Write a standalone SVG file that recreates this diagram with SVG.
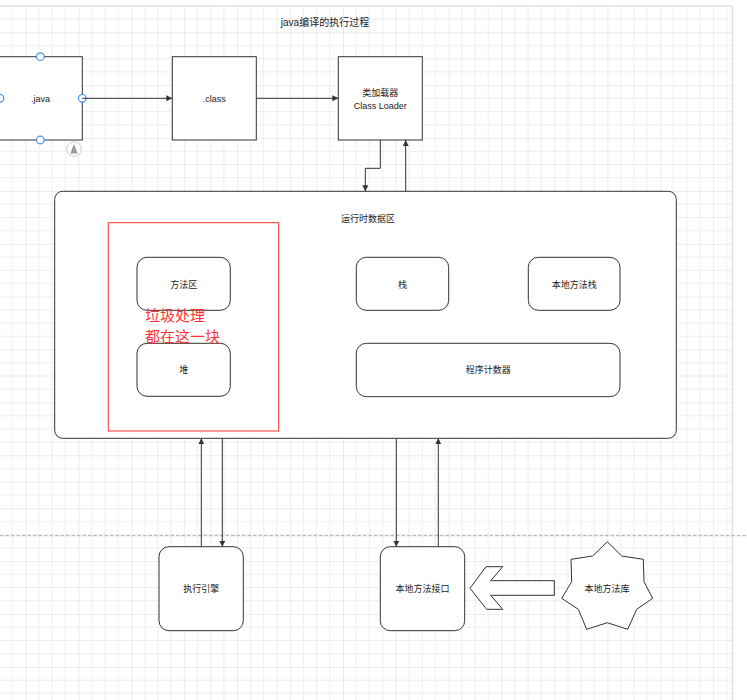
<svg xmlns="http://www.w3.org/2000/svg" width="747" height="700" viewBox="0 0 747 700">
<style>
.box{fill:#fff;stroke:#333;stroke-width:1}
.lbl{font-family:"Liberation Sans","Noto Sans CJK SC",sans-serif;font-size:9px;fill:#222;text-anchor:middle;dominant-baseline:central}
.con{fill:none;stroke:#333;stroke-width:1}
.handle{fill:#fff;stroke:#3d8ef0;stroke-width:1.2}
</style>
<defs>
<pattern id="grid" patternUnits="userSpaceOnUse" x="25.7" y="32.3" width="52.88" height="52.88">
<path d="M13.22,0V52.88M26.44,0V52.88M39.66,0V52.88M0,13.22H52.88M0,26.44H52.88M0,39.66H52.88" stroke="#ededed" stroke-width="1" fill="none"/>
<path d="M0,0V52.88M0,0H52.88" stroke="#dadada" stroke-width="1" fill="none"/>
</pattern>
<marker id="arr" markerUnits="userSpaceOnUse" markerWidth="7" markerHeight="7" refX="6" refY="3" orient="auto">
<path d="M0,0 L6,3 L0,6 z" fill="#333"/>
</marker>
</defs>
<rect x="0" y="0" width="747" height="700" fill="#fff"/>
<rect x="0" y="6" width="732.3" height="694" fill="url(#grid)"/>
<path d="M0,6H732.3V700" fill="none" stroke="#d6d6d6" stroke-width="1"/>
<line x1="0" y1="535.7" x2="747" y2="535.7" stroke="#aaa" stroke-width="1" stroke-dasharray="3.5 2"/>

<text x="325" y="22" class="lbl" style="font-size:10px">java编译的执行过程</text>

<g id="runtime">
<rect x="54.7" y="191.3" width="621.6" height="247" rx="8" class="box"/>
<text x="368" y="219" class="lbl">运行时数据区</text>
</g>
<g id="gc-area">
<rect x="108.3" y="222.7" width="170.4" height="208.3" fill="none" stroke="#f33" stroke-width="1"/>
</g>
<g id="method-area">
<rect x="137" y="257.3" width="93.3" height="53" rx="10" class="box"/>
<text x="183.7" y="284.5" class="lbl">方法区</text>
</g>
<g id="heap">
<rect x="137" y="343.3" width="93.3" height="53" rx="10" class="box"/>
<text x="183.7" y="370" class="lbl">堆</text>
</g>
<g id="gc-note">
<text x="145" y="321" style="font-family:'Liberation Sans','Noto Sans CJK SC',sans-serif;font-size:15px;fill:#f33">垃圾处理</text>
<text x="145" y="342" style="font-family:'Liberation Sans','Noto Sans CJK SC',sans-serif;font-size:15px;fill:#f33">都在这一块</text>
</g>
<g id="stack">
<rect x="356.3" y="257.3" width="92.4" height="53" rx="10" class="box"/>
<text x="402.5" y="284.5" class="lbl">栈</text>
</g>
<g id="native-stack">
<rect x="528.3" y="257.3" width="91.7" height="53" rx="10" class="box"/>
<text x="574.2" y="284.5" class="lbl">本地方法栈</text>
</g>
<g id="pc">
<rect x="356.3" y="343.3" width="263.7" height="53.4" rx="10" class="box"/>
<text x="488.2" y="370" class="lbl">程序计数器</text>
</g>

<g id="java">
<rect x="-1" y="56.7" width="83.3" height="83.3" class="box"/>
<text x="40.5" y="98.5" class="lbl">.java</text>
<circle cx="40.3" cy="56.7" r="3.8" class="handle"/>
<circle cx="40.3" cy="140" r="3.8" class="handle"/>
<circle cx="82.3" cy="98.3" r="3.8" class="handle"/>
<circle cx="0" cy="98.3" r="3.8" class="handle"/>
<circle cx="74" cy="149" r="7.3" fill="#fff" stroke="#ccc" stroke-width="1"/>
<path d="M70.3,153.5 L77.7,153.5 L74,144 z" fill="#999"/>
</g>
<g id="class">
<rect x="172.3" y="56.7" width="84" height="83.3" class="box"/>
<text x="214.3" y="98.5" class="lbl">.class</text>
</g>
<g id="loader">
<rect x="338.3" y="56.7" width="84" height="83.3" class="box"/>
<text x="380.3" y="93" class="lbl">类加载器</text>
<text x="380.3" y="106" class="lbl">Class Loader</text>
</g>

<g id="engine">
<rect x="159" y="546.7" width="84.3" height="84" rx="10" class="box"/>
<text x="201.2" y="588.5" class="lbl">执行引擎</text>
</g>
<g id="native-interface">
<rect x="380.3" y="546.7" width="84.4" height="84" rx="10" class="box"/>
<text x="422.5" y="588.5" class="lbl">本地方法接口</text>
</g>
<g id="native-lib">
<polygon points="607.3,541.7 621.7,556 643.3,559.3 644,581.7 652.7,598.3 636.7,609.3 627.7,629.3 607.3,622.7 586.7,629.3 578.3,609.3 561.7,598.3 571.7,581.7 571,559.3 592.7,556" class="box"/>
<text x="607" y="588.5" class="lbl">本地方法库</text>
</g>

<g id="connectors">
<line x1="82.3" y1="98.3" x2="172.3" y2="98.3" class="con" marker-end="url(#arr)"/>
<line x1="256.3" y1="98.3" x2="338.3" y2="98.3" class="con" marker-end="url(#arr)"/>
<polyline points="380.3,140 380.3,168.3 365.3,168.3 365.3,191.3" class="con" marker-end="url(#arr)"/>
<line x1="405.7" y1="191.3" x2="405.7" y2="140" class="con" marker-end="url(#arr)"/>
<line x1="201.3" y1="546.7" x2="201.3" y2="438.3" class="con" marker-end="url(#arr)"/>
<line x1="222.3" y1="438.3" x2="222.3" y2="546.7" class="con" marker-end="url(#arr)"/>
<line x1="396.3" y1="438.3" x2="396.3" y2="546.7" class="con" marker-end="url(#arr)"/>
<line x1="438.3" y1="546.7" x2="438.3" y2="438.3" class="con" marker-end="url(#arr)"/>
<polygon points="554.3,580.7 490.7,580.7 502.7,566.7 486,566.7 470,588.3 486.7,609.3 502.7,609.3 490.7,595.3 554.3,595.3" fill="#fff" stroke="#333" stroke-width="1"/>
</g>
</svg>
